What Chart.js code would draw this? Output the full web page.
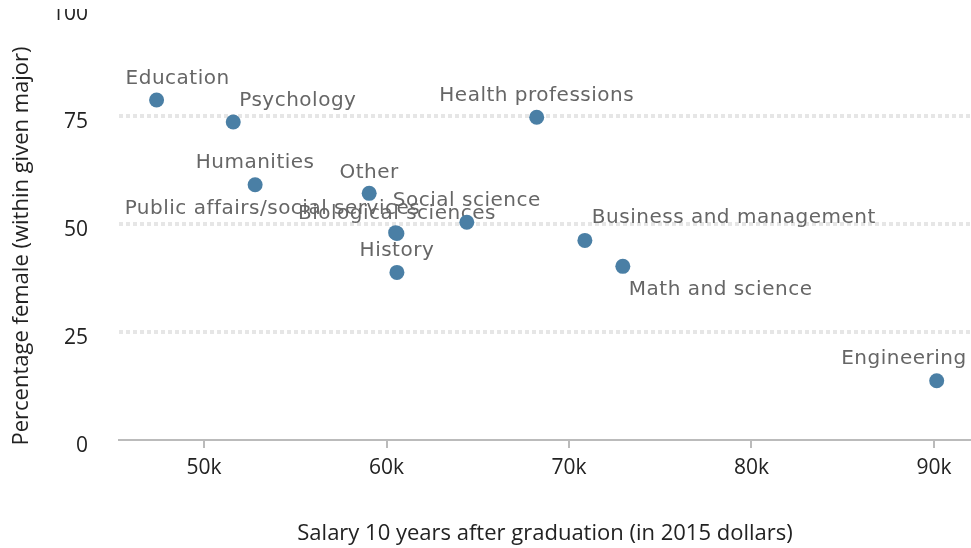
<!DOCTYPE html>
<html>
<head>
<meta charset="utf-8">
<script src="https://cdn.jsdelivr.net/npm/chart.js@4.4.1/dist/chart.umd.min.js"></script>
<style>
  html, body { margin: 0; padding: 0; background: #fff; overflow: hidden; }
  #wrap { width: 971px; height: 548px; }
  canvas { display: block; }
</style>
</head>
<body>
<div id="wrap"><canvas id="myChart"></canvas></div>
<script>
// majors, salary 10 years out (2015 dollars) and share female
const majors = ['Education', 'Psychology', 'Humanities', 'Public affairs/social services', 'Other',
  'Biological sciences', 'History', 'Social science', 'Health professions',
  'Business and management', 'Math and science', 'Engineering'];
const salary = [47400, 51600, 52800, 60500, 59050, 60570, 60570, 64400, 68230, 70870, 72950, 90150];
const pctFemale = [78.7, 73.6, 59.1, 48.0, 57.1, 47.8, 38.8, 50.4, 74.7, 46.2, 40.2, 13.7];

const xTicks = [50000, 60000, 70000, 80000, 90000];
const yTicks = [0, 25, 50, 75, 100];

// where each label sits relative to its dot (px)
const labelAlign = ['left', 'left', 'center', 'left', 'center', 'center', 'center', 'center', 'center', 'left', 'left', 'right'];
const labelDx = [-31, 6, 0, -271, 0, 0, 0, 0, 0, 7, 6, 30];
const labelDy = [-16, -16, -17, -19, -15, -15, -16, -16, -16, -17, 29, -17];

Chart.defaults.font.family = '"Open Sans"';
Chart.defaults.color = '#222';

const pointLabels = {
  id: 'pointLabels',
  beforeDatasetsDraw(chart) {
    const ctx = chart.ctx;
    const meta = chart.getDatasetMeta(0);
    ctx.save();
    ctx.font = '20px "DejaVu Sans"';
    ctx.letterSpacing = '0.5px';
    ctx.fillStyle = '#666';
    ctx.textBaseline = 'alphabetic';
    meta.data.forEach((pt, i) => {
      ctx.textAlign = labelAlign[i];
      ctx.fillText(majors[i], pt.x + labelDx[i], pt.y + labelDy[i]);
    });
    ctx.restore();
  }
};

const yTitle = {
  id: 'yTitle',
  afterDraw(chart) {
    const ctx = chart.ctx;
    const area = chart.chartArea;
    ctx.save();
    // top of the "100" label is cut off in the original
    ctx.clearRect(0, 0, area.left, area.top + 1);
    ctx.font = '22px "Open Sans"';
    ctx.fillStyle = '#222';
    ctx.textAlign = 'center';
    ctx.textBaseline = 'middle';
    ctx.translate(22, (area.top + area.bottom) / 2 + 22);
    ctx.rotate(-Math.PI / 2);
    ctx.fillText('Percentage female (within given major)', 0, 0);
    ctx.restore();
  }
};

const data = salary.map((s, i) => ({ x: s, y: pctFemale[i] }));

new Chart(document.getElementById('myChart'), {
  type: 'scatter',
  data: {
    datasets: [{
      label: 'Majors',
      data: data,
      backgroundColor: '#4a7fa5',
      borderWidth: 0,
      pointRadius: 7.5,
      pointHoverRadius: 7.5
    }]
  },
  options: {
    responsive: true,
    maintainAspectRatio: false,
    animation: false,
    layout: { autoPadding: false, padding: { top: 8, right: 0, left: 0, bottom: 0 } },
    plugins: {
      legend: { display: false },
      tooltip: { enabled: false }
    },
    scales: {
      x: {
        type: 'linear',
        min: 45340,
        max: 92030,
        afterBuildTicks: scale => { scale.ticks = xTicks.map(v => ({ value: v })); },
        afterFit: scale => {
          scale.height = 108;
          scale.paddingLeft = 0;
          scale.paddingRight = 0;
        },
        ticks: {
          font: { size: 21 },
          color: '#222',
          padding: 7,
          maxRotation: 0,
          callback: v => (v / 1000) + 'k'
        },
        grid: {
          drawOnChartArea: false,
          drawTicks: true,
          tickLength: 8,
          color: '#bbb',
          lineWidth: 2
        },
        border: { display: true, color: '#bbb', width: 2 },
        title: {
          display: true,
          text: 'Salary 10 years after graduation (in 2015 dollars)',
          font: { size: 22 },
          color: '#222',
          padding: { top: 0, bottom: 1 }
        }
      },
      y: {
        min: 0,
        max: 100,
        afterBuildTicks: scale => { scale.ticks = yTicks.map(v => ({ value: v })); },
        afterFit: scale => {
          scale.width = 119;
          scale.paddingTop = 0;
          scale.paddingBottom = 0;
        },
        ticks: {
          font: { size: 21 },
          color: '#222',
          padding: 31,
          labelOffset: 6
        },
        grid: {
          drawTicks: false,
          color: c => (c.tick && (c.tick.value === 100 || c.tick.value === 0)) ? 'rgba(0,0,0,0)' : '#e6e6e6',
          lineWidth: 4
        },
        border: { display: false, dash: [4, 3] }
      }
    }
  },
  plugins: [pointLabels, yTitle]
});
</script>
</body>
</html>
